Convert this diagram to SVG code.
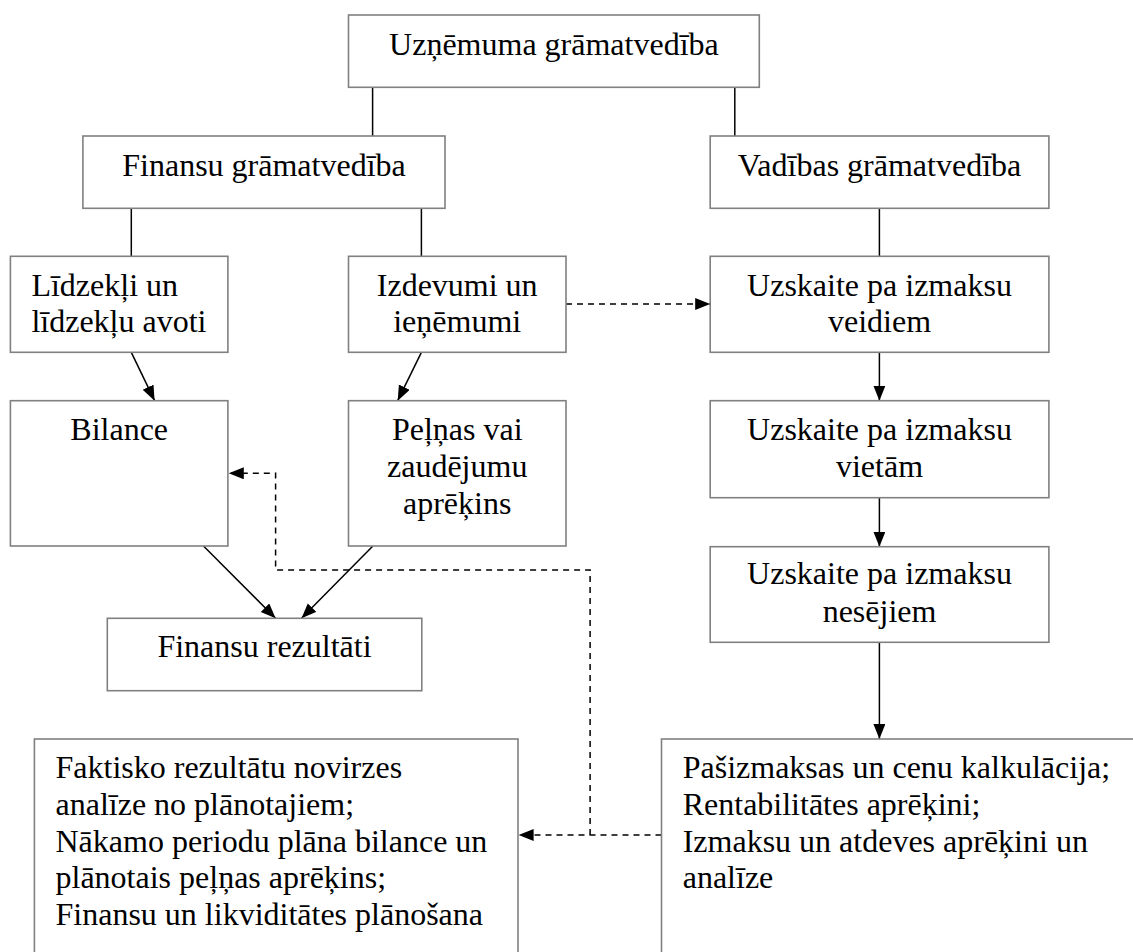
<svg xmlns="http://www.w3.org/2000/svg" width="1133" height="952" viewBox="0 0 1133 952">
<style>
.box{fill:#fff;stroke:#808080;stroke-width:1.6}
.t{font-family:"Liberation Serif","Times New Roman",serif;font-size:32px;fill:#000}
.c{text-anchor:middle}
.ln{fill:none;stroke:#000;stroke-width:1.5}
.d{stroke-dasharray:6 5}
</style>
<defs>
<marker id="ah" markerUnits="userSpaceOnUse" markerWidth="16" markerHeight="13" refX="15" refY="6" orient="auto">
<path d="M0,0 L15,6 L0,12 z" fill="#000"/>
</marker>
</defs>
<rect width="1133" height="952" fill="#fff"/>
<g id="connectors">
<line class="ln" x1="372.6" y1="87.3" x2="372.6" y2="136"/>
<line class="ln" x1="734.8" y1="87.3" x2="734.8" y2="136"/>
<line class="ln" x1="131.3" y1="208.3" x2="131.3" y2="256.3"/>
<line class="ln" x1="421.4" y1="208.3" x2="421.4" y2="256.3"/>
<line class="ln" x1="879.4" y1="208.3" x2="879.4" y2="256.3"/>
<line class="ln" x1="131.3" y1="352.3" x2="154.6" y2="400.7" marker-end="url(#ah)"/>
<line class="ln" x1="421.4" y1="352.3" x2="397.7" y2="400.7" marker-end="url(#ah)"/>
<line class="ln" x1="203.5" y1="546" x2="275.6" y2="618.3" marker-end="url(#ah)"/>
<line class="ln" x1="372.9" y1="546" x2="301.5" y2="618.3" marker-end="url(#ah)"/>
<line class="ln" x1="879.4" y1="352.3" x2="879.4" y2="400.7" marker-end="url(#ah)"/>
<line class="ln" x1="879.4" y1="497.7" x2="879.4" y2="546.7" marker-end="url(#ah)"/>
<line class="ln" x1="879.4" y1="642.3" x2="879.4" y2="739" marker-end="url(#ah)"/>
<line class="ln d" x1="566" y1="304" x2="710.2" y2="304" marker-end="url(#ah)"/>
<polyline class="ln d" points="590.1,835 590.1,570 275.6,570 275.6,473.3 228.8,473.3" marker-end="url(#ah)"/>
<line class="ln d" x1="661.5" y1="835" x2="518.6" y2="835" marker-end="url(#ah)"/>
</g>
<g id="n-uznemuma">
<rect class="box" x="348.5" y="15" width="410.8" height="72.3"/>
<text class="t c" x="553.9" y="55">Uzņēmuma grāmatvedība</text>
</g>
<g id="n-finansu">
<rect class="box" x="82.9" y="136" width="362.1" height="72.3"/>
<text class="t c" x="264" y="175.7">Finansu grāmatvedība</text>
</g>
<g id="n-vadibas">
<rect class="box" x="710.2" y="136" width="338.7" height="72.3"/>
<text class="t c" x="879.5" y="175.7">Vadības grāmatvedība</text>
</g>
<g id="n-lidzekli">
<rect class="box" x="10.4" y="256.3" width="217.5" height="96"/>
<text class="t" x="31.4" y="295.7">Līdzekļi un</text>
<text class="t" x="31.4" y="332.3">līdzekļu avoti</text>
</g>
<g id="n-izdevumi">
<rect class="box" x="348.5" y="256.3" width="217.5" height="96"/>
<text class="t c" x="457.2" y="295.7">Izdevumi un</text>
<text class="t c" x="457.2" y="332.3">ieņēmumi</text>
</g>
<g id="n-veidiem">
<rect class="box" x="710.2" y="256.3" width="338.7" height="96"/>
<text class="t c" x="879.5" y="295.7">Uzskaite pa izmaksu</text>
<text class="t c" x="879.5" y="332.3">veidiem</text>
</g>
<g id="n-bilance">
<rect class="box" x="10.4" y="400.7" width="217.5" height="145.3"/>
<text class="t c" x="119.2" y="440">Bilance</text>
</g>
<g id="n-pelnas">
<rect class="box" x="348.5" y="400.7" width="217.5" height="145.3"/>
<text class="t c" x="457.2" y="440">Peļņas vai</text>
<text class="t c" x="457.2" y="477">zaudējumu</text>
<text class="t c" x="457.2" y="513.5">aprēķins</text>
</g>
<g id="n-vietam">
<rect class="box" x="710.2" y="400.7" width="338.7" height="97"/>
<text class="t c" x="879.5" y="440">Uzskaite pa izmaksu</text>
<text class="t c" x="879.5" y="477.3">vietām</text>
</g>
<g id="n-nesejiem">
<rect class="box" x="710.2" y="546.7" width="338.7" height="95.6"/>
<text class="t c" x="879.5" y="584">Uzskaite pa izmaksu</text>
<text class="t c" x="879.5" y="621.7">nesējiem</text>
</g>
<g id="n-rezultati">
<rect class="box" x="107.3" y="618.3" width="314.5" height="72.4"/>
<text class="t c" x="264.5" y="657.3">Finansu rezultāti</text>
</g>
<g id="n-faktisko">
<rect class="box" x="34.4" y="739" width="483.6" height="240"/>
<text class="t" x="55.5" y="778.3">Faktisko rezultātu novirzes</text>
<text class="t" x="55.5" y="815">analīze no plānotajiem;</text>
<text class="t" x="55.5" y="851.7">Nākamo periodu plāna bilance un</text>
<text class="t" x="55.5" y="888.3">plānotais peļņas aprēķins;</text>
<text class="t" x="55.5" y="925">Finansu un likviditātes plānošana</text>
</g>
<g id="n-pasizmaksas">
<rect class="box" x="661.5" y="739" width="500" height="240"/>
<text class="t" x="682.7" y="778.3">Pašizmaksas un cenu kalkulācija;</text>
<text class="t" x="682.7" y="815">Rentabilitātes aprēķini;</text>
<text class="t" x="682.7" y="851.7">Izmaksu un atdeves aprēķini un</text>
<text class="t" x="682.7" y="888.3">analīze</text>
</g>
</svg>
